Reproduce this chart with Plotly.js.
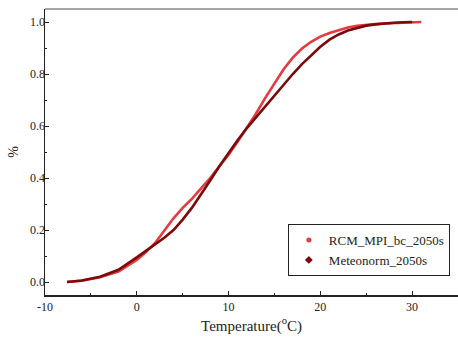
<!DOCTYPE html>
<html>
<head>
<meta charset="utf-8">
<script src="https://cdn.plot.ly/plotly-3.0.1.min.js"></script>
<style>html,body{margin:0;padding:0;background:#fff;}#chart{width:458px;height:340px;}</style>
</head>
<body>
<div id="chart"></div>
<script>
const rcmName = "RCM_MPI_bc_2050s";
const metName = "Meteonorm_2050s";
const rcmTemp = [-7.6, -6, -4, -2, 0, 1, 2, 3, 4, 5, 6, 7, 8, 9, 10, 11, 12, 13, 14, 15, 16, 17, 18, 19, 20, 21, 22, 23, 24, 25, 26, 27, 28, 29, 30, 31];
const rcmCdf = [0, 0.005, 0.018, 0.04, 0.085, 0.115, 0.15, 0.2, 0.245, 0.285, 0.32, 0.36, 0.4, 0.445, 0.49, 0.54, 0.592, 0.648, 0.708, 0.765, 0.818, 0.863, 0.898, 0.924, 0.944, 0.958, 0.97, 0.979, 0.985, 0.989, 0.992, 0.994, 0.996, 0.998, 0.999, 1.0];
const metTemp = [-7.6, -6, -4, -2, 0, 1, 2, 3, 4, 5, 6, 7, 8, 9, 10, 11, 12, 13, 14, 15, 16, 17, 18, 19, 20, 21, 22, 23, 24, 25, 26, 27, 28, 29, 30];
const metCdf = [0, 0.006, 0.02, 0.047, 0.095, 0.12, 0.145, 0.17, 0.2, 0.24, 0.285, 0.335, 0.39, 0.445, 0.497, 0.546, 0.592, 0.634, 0.676, 0.718, 0.76, 0.8, 0.838, 0.873, 0.905, 0.932, 0.952, 0.967, 0.978, 0.986, 0.991, 0.995, 0.997, 0.999, 1.0];
const xTicks = [-10, 0, 10, 20, 30];
const yTicks = [0.0, 0.2, 0.4, 0.6, 0.8, 1.0];

const rcmColor = "#e53a40";
const metColor = "#7d0a0a";
const serif = "Liberation Serif, Times New Roman, serif";

const traces = [
  {x: rcmTemp, y: rcmCdf, mode: "lines", line: {color: rcmColor, width: 2.6}, showlegend: false, hoverinfo: "skip"},
  {x: metTemp, y: metCdf, mode: "lines", line: {color: metColor, width: 2.6}, showlegend: false, hoverinfo: "skip"},
  {x: [null], y: [null], mode: "markers", name: rcmName, marker: {color: rcmColor, size: 5, symbol: "circle"}},
  {x: [null], y: [null], mode: "markers", name: metName, marker: {color: metColor, size: 6, symbol: "diamond"}}
];

const layout = {
  width: 458, height: 340,
  margin: {l: 45, r: 0, t: 9, b: 45},
  paper_bgcolor: "#fff", plot_bgcolor: "#fff",
  font: {family: serif, size: 12, color: "#222"},
  showlegend: true,
  legend: {x: 0.588, y: 0.248, xanchor: "left", yanchor: "top", bgcolor: "#fff", bordercolor: "#222", borderwidth: 1,
           font: {family: serif, size: 13, color: "#222"}, itemsizing: "trace", tracegroupgap: 0},
  xaxis: {range: [-10, 35], tickvals: xTicks, ticktext: xTicks.map(String), ticks: "inside", ticklen: 4, tickcolor: "#222",
          showline: true, linecolor: "#222", linewidth: 1.5, showgrid: false, zeroline: false,
          minor: {dtick: 5, tick0: 0, ticks: "inside", ticklen: 2, tickcolor: "#222"},
          tickfont: {family: serif, size: 12, color: "#222"},
          title: {text: "Temperature(<sup>o</sup>C)", font: {family: serif, size: 15, color: "#222"}, standoff: 7}},
  yaxis: {range: [-0.05, 1.05], tickvals: yTicks, ticktext: yTicks.map(v => v.toFixed(1)), ticks: "inside", ticklen: 4, tickcolor: "#222",
          showline: true, linecolor: "#222", linewidth: 1.5, showgrid: false, zeroline: false,
          minor: {dtick: 0.1, tick0: 0, ticks: "inside", ticklen: 2, tickcolor: "#222"},
          tickfont: {family: serif, size: 12, color: "#222"}, ticklabelstandoff: -4,
          title: {text: "%", font: {family: serif, size: 14, color: "#222"}, standoff: 8}},
  shapes: [{type: "line", xref: "paper", yref: "paper", x0: 0, x1: 1, y0: 1, y1: 1, line: {color: "#888", width: 1.5}}]
};

Plotly.newPlot("chart", traces, layout, {displayModeBar: false, staticPlot: true});
</script>
</body>
</html>
